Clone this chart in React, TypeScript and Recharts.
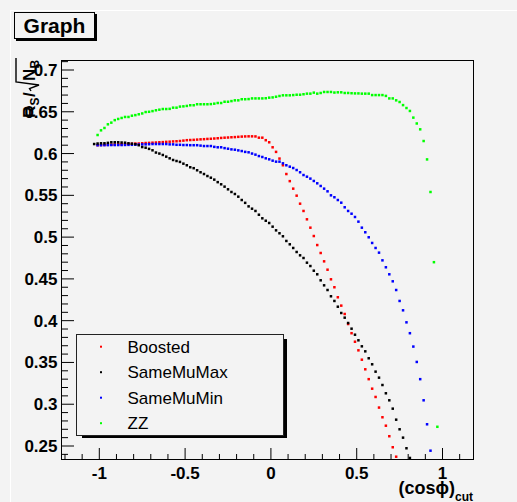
import React from "react";
import { ScatterChart, Scatter, XAxis, YAxis } from "recharts";

// cut values shared by every curve (null = point not visible in the frame)
const cosCut = [
  -1.03, -1.01, -0.99, -0.97, -0.95, -0.93, -0.91, -0.89, -0.87, -0.85,
  -0.83, -0.81, -0.79, -0.77, -0.75, -0.73, -0.71, -0.69, -0.67, -0.65,
  -0.63, -0.61, -0.59, -0.57, -0.55, -0.53, -0.51, -0.49, -0.47, -0.45,
  -0.43, -0.41, -0.39, -0.37, -0.35, -0.33, -0.31, -0.29, -0.27, -0.25,
  -0.23, -0.21, -0.19, -0.17, -0.15, -0.13, -0.11, -0.09, -0.07, -0.05,
  -0.03, -0.01, 0.01, 0.03, 0.05, 0.07, 0.09, 0.11, 0.13, 0.15,
  0.17, 0.19, 0.21, 0.23, 0.25, 0.27, 0.29, 0.31, 0.33, 0.35,
  0.37, 0.39, 0.41, 0.43, 0.45, 0.47, 0.49, 0.51, 0.53, 0.55,
  0.57, 0.59, 0.61, 0.63, 0.65, 0.67, 0.69, 0.71, 0.73, 0.75,
  0.77, 0.79, 0.81, 0.83, 0.85, 0.87, 0.89, 0.91, 0.93, 0.95,
  0.97, 0.99,
];

const boosted = [
  null, 0.61, 0.6102, 0.6103, 0.6105, 0.6106, 0.6108, 0.611, 0.611, 0.6113,
  0.6115, 0.6118, 0.612, 0.612, 0.6123, 0.6126, 0.6128, 0.613, 0.6132, 0.6135,
  0.6137, 0.614, 0.6142, 0.6145, 0.6147, 0.615, 0.6155, 0.616, 0.6162, 0.6164,
  0.6167, 0.617, 0.6172, 0.6175, 0.6177, 0.618, 0.6183, 0.6187, 0.619, 0.6192,
  0.6195, 0.6197, 0.62, 0.6203, 0.6205, 0.6206, 0.6206, 0.6205, 0.619, 0.619,
  0.616, 0.6135, 0.6075, 0.602, 0.594, 0.586, 0.5755, 0.567, 0.558, 0.5496,
  0.54, 0.5313, 0.5213, 0.5113, 0.5013, 0.4905, 0.481, 0.471, 0.461, 0.4495,
  0.44, 0.428, 0.418, 0.408, 0.396, 0.385, 0.3748, 0.3645, 0.3533, 0.3418,
  0.33, 0.3186, 0.3087, 0.296, 0.2844, 0.2743, 0.2617, 0.2485, 0.2372, null,
  null, null, null, null, null, null, null, null, null, null,
  null, null,
];

const sameMuMax = [
  0.6114, 0.612, 0.6123, 0.6123, 0.6128, 0.6135, 0.6135, 0.6135, 0.6132, 0.613,
  0.6123, 0.6118, 0.6112, 0.61, 0.6078, 0.607, 0.6056, 0.6039, 0.6012, 0.6,
  0.5983, 0.5963, 0.5943, 0.5923, 0.5911, 0.59, 0.5879, 0.586, 0.5836, 0.5825,
  0.58, 0.5776, 0.5755, 0.5731, 0.5711, 0.5688, 0.5658, 0.5632, 0.5604, 0.5572,
  0.554, 0.5516, 0.5484, 0.5444, 0.541, 0.5368, 0.534, 0.5313, 0.5268, 0.5225,
  0.5196, 0.5169, 0.5125, 0.5081, 0.5046, 0.501, 0.4954, 0.4914, 0.487, 0.4822,
  0.4782, 0.475, 0.4694, 0.4654, 0.4598, 0.4555, 0.4483, 0.4423, 0.4367, 0.4292,
  0.4236, 0.4167, 0.4092, 0.4036, 0.3972, 0.3904, 0.3832, 0.3765, 0.3693, 0.3633,
  0.355, 0.3478, 0.339, 0.3318, 0.323, 0.3131, 0.3047, 0.2947, 0.2815, 0.27,
  0.26, 0.2473, 0.2357, null, null, null, null, null, null, null,
  null, null,
];

const sameMuMin = [
  null, 0.61, 0.61, 0.6101, 0.6101, 0.6102, 0.6102, 0.6102, 0.6102, 0.6103,
  0.6104, 0.6105, 0.6106, 0.6108, 0.611, 0.611, 0.6112, 0.6114, 0.6114, 0.6114,
  0.6114, 0.6114, 0.611, 0.611, 0.6105, 0.6105, 0.6102, 0.6102, 0.61, 0.61,
  0.61, 0.6095, 0.609, 0.609, 0.609, 0.608, 0.6075, 0.6075, 0.6065, 0.6058,
  0.605, 0.6046, 0.6038, 0.603, 0.602, 0.6015, 0.6, 0.5987, 0.597, 0.5959,
  0.5943, 0.5931, 0.5915, 0.5903, 0.5903, 0.5883, 0.586, 0.5843, 0.5827, 0.5803,
  0.5776, 0.5743, 0.5723, 0.57, 0.5672, 0.5644, 0.5612, 0.558, 0.5548, 0.55,
  0.5477, 0.5444, 0.5412, 0.5357, 0.5313, 0.528, 0.5241, 0.5185, 0.5113, 0.5058,
  0.4998, 0.493, 0.487, 0.4814, 0.4722, 0.4639, 0.4555, 0.4471, 0.4367, 0.4236,
  0.4124, 0.398, 0.385, 0.369, 0.3506, 0.33, 0.3047, 0.276, 0.2444, null,
  null, null,
];

const zz = [
  null, 0.6222, 0.6278, 0.6306, 0.635, 0.637, 0.64, 0.6414, 0.6426, 0.6438,
  0.6438, 0.6453, 0.646, 0.647, 0.648, 0.6497, 0.65, 0.6508, 0.6518, 0.6525,
  0.6533, 0.6533, 0.6535, 0.6549, 0.6549, 0.6562, 0.6565, 0.657, 0.6578, 0.6578,
  0.659, 0.659, 0.659, 0.659, 0.6592, 0.6597, 0.6605, 0.6605, 0.662, 0.662,
  0.6628, 0.6637, 0.6637, 0.665, 0.665, 0.6652, 0.666, 0.666, 0.666, 0.666,
  0.6662, 0.6669, 0.6672, 0.668, 0.6689, 0.6697, 0.6697, 0.6697, 0.67, 0.6704,
  0.6704, 0.671, 0.6717, 0.6717, 0.6729, 0.6717, 0.6725, 0.6737, 0.6737, 0.6737,
  0.673, 0.6733, 0.6733, 0.6725, 0.6725, 0.6722, 0.672, 0.672, 0.6717, 0.6717,
  0.6717, 0.67, 0.67, 0.67, 0.67, 0.669, 0.666, 0.666, 0.6637, 0.6617,
  0.658, 0.6545, 0.651, 0.643, 0.636, 0.629, 0.615, 0.593, 0.554, 0.47,
  0.273, null,
];

const seriesNames = ["Boosted", "SameMuMax", "SameMuMin", "ZZ"];
const seriesColors = ["#ff0000", "#000000", "#0000ff", "#00ff00"];

const xMajorTicks = [-1, -0.5, 0, 0.5, 1];
const xMajorLabels = ["-1", "-0.5", "0", "0.5", "1"];
const yMajorTicks = [0.25, 0.3, 0.35, 0.4, 0.45, 0.5, 0.55, 0.6, 0.65, 0.7];
const yMajorLabels = ["0.25", "0.3", "0.35", "0.4", "0.45", "0.5", "0.55", "0.6", "0.65", "0.7"];

// minor tick grid (0.1 on x, 0.01 on y)
const xAllTicks = Array.from({ length: 24 }, (_, i) => +(-1.2 + i * 0.1).toFixed(2));
const yAllTicks = Array.from({ length: 48 }, (_, i) => +(0.24 + i * 0.01).toFixed(2));

const BG = "#f3f3f3";
const FONT = "'Liberation Sans', Arial, Helvetica, sans-serif";

const W = 517;
const H = 502;

function makePoints(vals: (number | null)[]) {
  return cosCut
    .map((x, i) => ({ x, y: vals[i] }))
    .filter((p) => p.y !== null);
}

function dotShape(color: string) {
  return (props: any) => (
    <rect
      x={props.cx - 1.25}
      y={props.cy - 1.25}
      width={2.5}
      height={2.5}
      fill={color}
    />
  );
}

function XTick(props: any) {
  const { x, y, payload } = props;
  const idx = xMajorTicks.findIndex((t) => Math.abs(t - payload.value) < 1e-6);
  const major = idx >= 0;
  return (
    <g>
      <line x1={x} x2={x} y1={y} y2={y - (major ? 12 : 6)} stroke="#000" />
      {major && (
        <text
          x={x}
          y={y + 18.5}
          textAnchor="middle"
          fontFamily={FONT}
          fontWeight="bold"
          fontSize={17}
          fill="#000"
        >
          {xMajorLabels[idx]}
        </text>
      )}
    </g>
  );
}

function YTick(props: any) {
  const { x, y, payload } = props;
  const idx = yMajorTicks.findIndex((t) => Math.abs(t - payload.value) < 1e-6);
  const major = idx >= 0;
  return (
    <g>
      <line x1={x} x2={x + (major ? 12 : 6)} y1={y} y2={y} stroke="#000" />
      {major && (
        <text
          x={x - 4.5}
          y={y + 6}
          textAnchor="end"
          fontFamily={FONT}
          fontWeight="bold"
          fontSize={17}
          fill="#000"
        >
          {yMajorLabels[idx]}
        </text>
      )}
    </g>
  );
}

export default function App() {
  const seriesData = [boosted, sameMuMax, sameMuMin, zz].map(makePoints);
  // drawing order: Boosted, SameMuMin, SameMuMax, ZZ
  const drawOrder = [0, 2, 1, 3];

  return (
    <div
      style={{
        position: "absolute",
        left: 0,
        top: 0,
        width: W,
        height: H,
        background: BG,
        fontFamily: FONT,
      }}
    >
      <ScatterChart
        width={W}
        height={H}
        margin={{ top: 60, right: 44, bottom: 0, left: 0 }}
      >
        <XAxis
          type="number"
          dataKey="x"
          domain={[-1.2174, 1.1777]}
          allowDataOverflow
          ticks={xAllTicks}
          interval={0}
          height={42}
          tickSize={0}
          tickMargin={0}
          axisLine={false}
          tickLine={false}
          tick={XTick}
        />
        <YAxis
          type="number"
          dataKey="y"
          domain={[0.23325, 0.71197]}
          allowDataOverflow
          ticks={yAllTicks}
          interval={0}
          width={62}
          tickSize={0}
          tickMargin={0}
          axisLine={false}
          tickLine={false}
          tick={YTick}
        />
        {drawOrder.map((k) => (
          <Scatter
            key={seriesNames[k]}
            name={seriesNames[k]}
            data={seriesData[k]}
            fill={seriesColors[k]}
            shape={dotShape(seriesColors[k])}
            isAnimationActive={false}
          />
        ))}
      </ScatterChart>

      <svg
        width={W}
        height={H}
        style={{ position: "absolute", left: 0, top: 0, pointerEvents: "none" }}
      >
        {/* pad bevel */}
        <line x1={10} x2={W} y1={10.5} y2={10.5} stroke="#ffffff" />
        <line x1={10.5} x2={10.5} y1={10} y2={H} stroke="#ffffff" />

        {/* frame */}
        <rect x={61.5} y={60.5} width={412} height={399} fill="none" stroke="#000" />

        {/* title box */}
        <rect x={16} y={14} width={81} height={27} fill="#000" />
        <rect x={14.5} y={12.5} width={80} height={26} fill={BG} stroke="#000" />
        <text
          x={54.5}
          y={32.5}
          textAnchor="middle"
          fontFamily={FONT}
          fontWeight="bold"
          fontSize={21}
          fill="#000"
        >
          Graph
        </text>

        {/* y title: R_S / sqrt(N_B) */}
        <g transform="translate(35,118) rotate(-90)" fontFamily={FONT} fontWeight="bold" fill="#000">
          <text x={0} y={0} fontSize={17}>R</text>
          <text x={12.5} y={4} fontSize={12}>S</text>
          <text x={21} y={0} fontSize={17}>/</text>
          <path
            d="M 27 -4 L 29.5 -5.5 L 33 4 L 36 -19 L 60 -19"
            stroke="#000"
            strokeWidth={1.4}
            fill="none"
          />
          <text x={37} y={0} fontSize={17}>N</text>
          <text x={49.5} y={4} fontSize={12}>B</text>
        </g>

        {/* x title */}
        <text
          x={473}
          y={494}
          textAnchor="end"
          fontFamily={FONT}
          fontWeight="bold"
          fontSize={18}
          fill="#000"
        >
          (cos{"\u03D5"})
          <tspan dy={7} fontSize={12}>cut</tspan>
        </text>

        {/* legend */}
        <rect x={82} y={339} width={205} height={99} fill="#000" />
        <rect x={76.5} y={334.5} width={207} height={101} fill={BG} stroke="#222" />
        {seriesNames.map((name, i) => {
          const cy = 346.7 + i * 25.5;
          return (
            <g key={name}>
              <rect x={100} y={cy - 1} width={2} height={2} fill={seriesColors[i]} />
              <text
                x={127.5}
                y={cy + 6}
                fontFamily={FONT}
                fontSize={17}
                fill="#000"
              >
                {name}
              </text>
            </g>
          );
        })}
      </svg>
    </div>
  );
}
